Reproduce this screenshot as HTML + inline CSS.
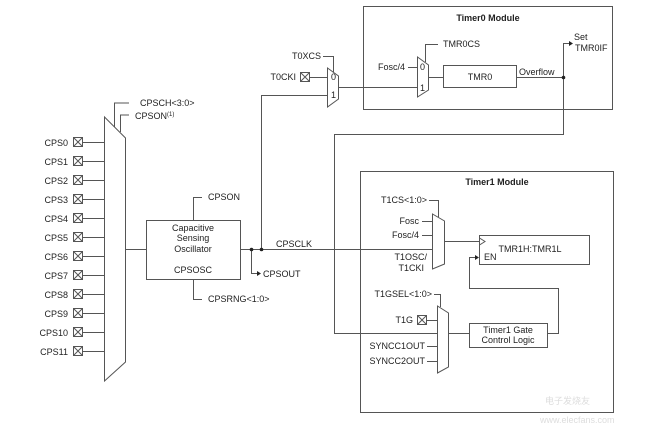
<!DOCTYPE html>
<html><head><meta charset="utf-8"><style>
html,body{margin:0;padding:0;background:#fff;}
svg{display:block;}
text{font-family:"Liberation Sans",Arial,sans-serif;font-size:9px;fill:#222;}
.b{font-weight:bold;}
</style></head><body>
<svg width="649" height="433" viewBox="0 0 649 433" xmlns="http://www.w3.org/2000/svg">
<g stroke="#555" stroke-width="1" fill="none">
<!-- left mux -->
<polygon points="104.5,117 125.5,138 125.5,362 104.5,381" fill="#fff"/>
<polyline points="129,103 114.5,103 114.5,127"/>
<polyline points="129,115 120.5,115 120.5,132"/>
<!-- CPS lines -->
<g>
<path d="M83 142.5H104.5M83 161.5H104.5M83 180.5H104.5M83 199.5H104.5M83 218.5H104.5M83 237.5H104.5M83 256.5H104.5M83 275.5H104.5M83 294.5H104.5M83 313.5H104.5M83 332.5H104.5M83 351.5H104.5"/>
<rect x="73.5" y="137.5" width="9" height="9"/><path d="M73.5 137.5l9 9M82.5 137.5l-9 9"/>
<rect x="73.5" y="156.5" width="9" height="9"/><path d="M73.5 156.5l9 9M82.5 156.5l-9 9"/>
<rect x="73.5" y="175.5" width="9" height="9"/><path d="M73.5 175.5l9 9M82.5 175.5l-9 9"/>
<rect x="73.5" y="194.5" width="9" height="9"/><path d="M73.5 194.5l9 9M82.5 194.5l-9 9"/>
<rect x="73.5" y="213.5" width="9" height="9"/><path d="M73.5 213.5l9 9M82.5 213.5l-9 9"/>
<rect x="73.5" y="232.5" width="9" height="9"/><path d="M73.5 232.5l9 9M82.5 232.5l-9 9"/>
<rect x="73.5" y="251.5" width="9" height="9"/><path d="M73.5 251.5l9 9M82.5 251.5l-9 9"/>
<rect x="73.5" y="270.5" width="9" height="9"/><path d="M73.5 270.5l9 9M82.5 270.5l-9 9"/>
<rect x="73.5" y="289.5" width="9" height="9"/><path d="M73.5 289.5l9 9M82.5 289.5l-9 9"/>
<rect x="73.5" y="308.5" width="9" height="9"/><path d="M73.5 308.5l9 9M82.5 308.5l-9 9"/>
<rect x="73.5" y="327.5" width="9" height="9"/><path d="M73.5 327.5l9 9M82.5 327.5l-9 9"/>
<rect x="73.5" y="346.5" width="9" height="9"/><path d="M73.5 346.5l9 9M82.5 346.5l-9 9"/>
</g>
<!-- osc -->
<path d="M125.5 249.5H146"/>
<rect x="146.5" y="220.5" width="94" height="59"/>
<polyline points="202,197.5 193.5,197.5 193.5,220"/>
<polyline points="202,299.5 193.5,299.5 193.5,280"/>
<path d="M240.5 249.5H433"/>
<polyline points="251.5,249.5 251.5,273.5 258,273.5"/>
<polyline points="261.5,249.5 261.5,95.5 327,95.5"/>
<!-- Timer0 -->
<rect x="363.5" y="6.5" width="249" height="103"/>
<polygon points="327.5,68 338.5,76 338.5,99 327.5,107" fill="#fff"/>
<polyline points="323,56.5 333.5,56.5 333.5,72"/>
<path d="M310 77.5H327.5"/>
<rect x="300.5" y="72.5" width="9" height="9"/><path d="M300.5 72.5l9 9M309.5 72.5l-9 9"/>
<path d="M338.5 87.5H417"/>
<polygon points="417.5,57 428.5,65 428.5,90 417.5,97" fill="#fff"/>
<polyline points="438,44.5 425.5,44.5 425.5,62"/>
<path d="M408 67.5H417"/>
<path d="M428.5 77.5H443"/>
<rect x="443.5" y="65.5" width="73" height="22"/>
<path d="M516.5 77.5H563.5"/>
<polyline points="570,43.5 563.5,43.5 563.5,134.5 334.5,134.5 334.5,333.5 437,333.5"/>
<!-- Timer1 -->
<rect x="360.5" y="171.5" width="253" height="241"/>
<polygon points="432.5,214 444.5,221 444.5,264 432.5,269" fill="#fff"/>
<polyline points="429,200.5 438.5,200.5 438.5,217"/>
<path d="M422 221.5H432.5M422 235.5H432.5"/>
<path d="M444.5 241.5H479"/>
<rect x="479.5" y="235.5" width="110" height="29"/>
<polyline points="479.5,238 485,241.5 479.5,245"/>
<polyline points="476,257.5 469.5,257.5 469.5,288.5 558.5,288.5 558.5,333.5 547,333.5"/>
<rect x="469.5" y="323.5" width="78" height="24"/>
<path d="M448.5 333.5H469"/>
<polygon points="437.5,306 448.5,313 448.5,367 437.5,373" fill="#fff"/>
<polyline points="434,294.5 440.5,294.5 440.5,307"/>
<path d="M427 320.5H437.5"/>
<rect x="417.5" y="315.5" width="9" height="9"/><path d="M417.5 315.5l9 9M426.5 315.5l-9 9"/>
<path d="M427 346.5H437.5M427 361.5H437.5"/>
</g>
<!-- dots & arrows -->
<g fill="#222">
<circle cx="251.5" cy="249.5" r="1.8"/><circle cx="261.5" cy="249.5" r="1.8"/>
<circle cx="563.5" cy="77.5" r="1.8"/>
<polygon points="261,273.5 257,271 257,276"/>
<polygon points="573,43.5 569,41 569,46"/>
<polygon points="479,257.5 475,255 475,260"/>
</g>
<!-- labels -->
<g text-anchor="end">
<text x="68" y="146">CPS0</text><text x="68" y="165">CPS1</text><text x="68" y="184">CPS2</text>
<text x="68" y="203">CPS3</text><text x="68" y="222">CPS4</text><text x="68" y="241">CPS5</text>
<text x="68" y="260">CPS6</text><text x="68" y="279">CPS7</text><text x="68" y="298">CPS8</text>
<text x="68" y="317">CPS9</text><text x="68" y="336">CPS10</text><text x="68" y="355">CPS11</text>
<text x="321" y="59">T0XCS</text><text x="296" y="80">T0CKI</text>
<text x="405" y="70">Fosc/4</text>
<text x="427" y="203">T1CS&lt;1:0&gt;</text>
<text x="419" y="224">Fosc</text><text x="419" y="238">Fosc/4</text>
<text x="427" y="260">T1OSC/</text><text x="424" y="271">T1CKI</text>
<text x="432" y="297">T1GSEL&lt;1:0&gt;</text>
<text x="413" y="323">T1G</text>
<text x="425" y="349">SYNCC1OUT</text><text x="425" y="364">SYNCC2OUT</text>
</g>
<text x="140" y="106">CPSCH&lt;3:0&gt;</text>
<text x="135" y="119">CPSON<tspan font-size="6" dy="-3">(1)</tspan></text>
<g text-anchor="middle">
<text x="193" y="231">Capacitive</text><text x="193" y="241">Sensing</text><text x="193" y="252">Oscillator</text>
<text x="193" y="273">CPSOSC</text>
<text class="b" x="488" y="21">Timer0 Module</text>
<text x="480" y="80">TMR0</text>
<text class="b" x="497" y="185">Timer1 Module</text>
<text x="530" y="252">TMR1H:TMR1L</text>
<text x="508" y="333">Timer1 Gate</text><text x="508" y="343">Control Logic</text>
</g>
<text x="208" y="200">CPSON</text>
<text x="208" y="302">CPSRNG&lt;1:0&gt;</text>
<text x="263" y="277">CPSOUT</text>
<text x="276" y="247">CPSCLK</text>
<text x="331" y="80" font-size="8">0</text><text x="331" y="98" font-size="8">1</text>
<text x="420" y="70" font-size="8">0</text><text x="420" y="91" font-size="8">1</text>
<text x="443" y="47">TMR0CS</text>
<text x="519" y="75">Overflow</text>
<text x="574" y="40">Set</text><text x="575" y="51">TMR0IF</text>
<text x="484" y="260">EN</text>
<text x="545" y="404" font-size="14" style="fill:#ddd">电子发烧友</text>
<text x="540" y="423" font-size="10" style="fill:#ddd">www.elecfans.com</text>
</svg>
</body></html>
